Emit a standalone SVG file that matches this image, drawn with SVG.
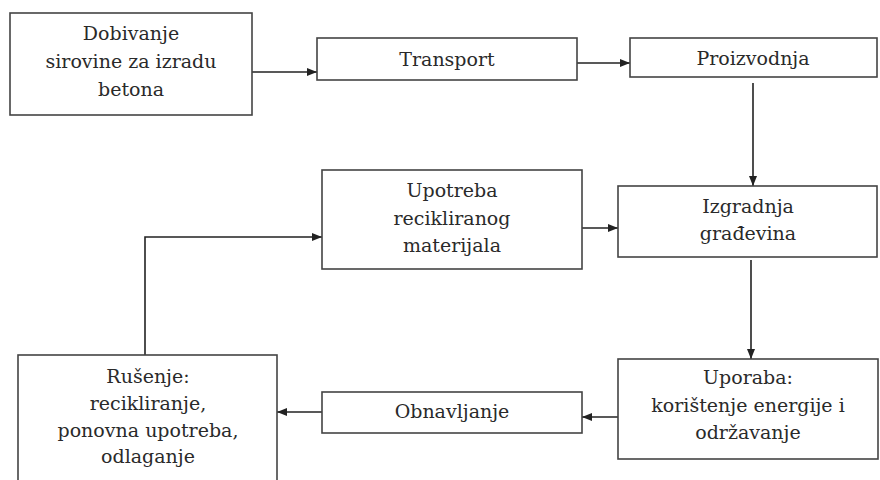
<svg xmlns="http://www.w3.org/2000/svg" width="880" height="480" viewBox="0 0 880 480">
<defs>
<marker id="ah" markerWidth="10" markerHeight="8" refX="10" refY="4" orient="auto" markerUnits="userSpaceOnUse">
<path d="M0,0 L10,4 L0,8 z" fill="#222"/>
</marker>
<style>
.box{fill:#fff;stroke:#444;stroke-width:1.6}
.t{font-family:"DejaVu Serif","Liberation Serif",serif;font-size:19px;fill:#2a2a2a;text-anchor:middle}
.c{fill:none;stroke:#222;stroke-width:1.6;marker-end:url(#ah)}
.l{fill:none;stroke:#222;stroke-width:1.6}
</style>
</defs>
<rect width="880" height="480" fill="#fff"/>
<g id="connectors">
<path class="c" d="M252,72 L317,72"/>
<path class="c" d="M577,63 L630,63"/>
<path class="c" d="M753,83 L753,186"/>
<path class="c" d="M582,228 L618,228"/>
<path class="c" d="M751,260 L751,359"/>
<path class="c" d="M618,417 L582,417"/>
<path class="c" d="M322,412 L277,412"/>
<path class="c" d="M145,355 L145,237 L322,237"/>
</g>
<g id="n1">
<rect class="box" x="10" y="13" width="242" height="102"/>
<text class="t" x="131" y="40">Dobivanje</text>
<text class="t" x="131" y="68">sirovine za izradu</text>
<text class="t" x="131" y="96">betona</text>
</g>
<g id="n2">
<rect class="box" x="317" y="38" width="260" height="42"/>
<text class="t" x="447" y="66">Transport</text>
</g>
<g id="n3">
<rect class="box" x="630" y="38" width="247" height="39"/>
<text class="t" x="753" y="65">Proizvodnja</text>
</g>
<g id="n4">
<rect class="box" x="322" y="170" width="260" height="99"/>
<text class="t" x="452" y="197">Upotreba</text>
<text class="t" x="452" y="225">recikliranog</text>
<text class="t" x="452" y="252">materijala</text>
</g>
<g id="n5">
<rect class="box" x="618" y="186" width="259" height="71"/>
<text class="t" x="748" y="213">Izgradnja</text>
<text class="t" x="748" y="240">građevina</text>
</g>
<g id="n6">
<rect class="box" x="618" y="359" width="260" height="100"/>
<text class="t" x="748" y="384">Uporaba:</text>
<text class="t" x="748" y="412">korištenje energije i</text>
<text class="t" x="748" y="439">održavanje</text>
</g>
<g id="n7">
<rect class="box" x="322" y="392" width="260" height="41"/>
<text class="t" x="452" y="418">Obnavljanje</text>
</g>
<g id="n8">
<rect class="box" x="18" y="355" width="259" height="140"/>
<text class="t" x="148" y="383">Rušenje:</text>
<text class="t" x="148" y="410">recikliranje,</text>
<text class="t" x="148" y="437">ponovna upotreba,</text>
<text class="t" x="148" y="463">odlaganje</text>
</g>
</svg>
